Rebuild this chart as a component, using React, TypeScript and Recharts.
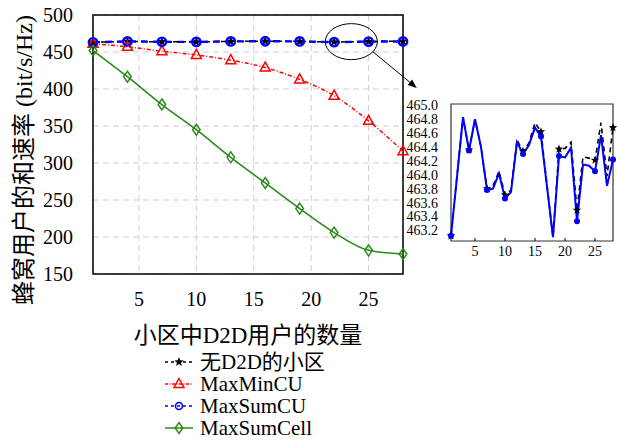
import React from "react";
import {
  CartesianGrid,
  Legend,
  Line,
  LineChart,
  ReferenceArea,
  ReferenceDot,
  ReferenceLine,
  XAxis,
  YAxis,
} from "recharts";

// x positions (number of D2D users in the cell)
const allX = [
  1, 2, 3, 4, 5, 6, 7, 8, 9, 10, 11, 12, 13, 14, 15, 16, 17, 18, 19, 20, 21,
  22, 23, 24, 25, 26, 27, 28,
];
const markerX = [1, 4, 7, 10, 13, 16, 19, 22, 25, 28];

// 无D2D的小区 (every x)
const noD2D = [
  463.12, 463.98, 464.83, 464.36, 464.8, 464.4, 463.8, 463.84, 464.05, 463.71,
  463.78, 464.5, 464.34, 464.46, 464.75, 464.62, 463.85, 463.1, 464.37, 464.38,
  464.47, 463.49, 464.26, 464.24, 464.21, 464.75, 463.98, 464.68,
];
// MaxSumCU (every x)
const maxSumCU = [
  463.12, 463.97, 464.83, 464.35, 464.8, 464.4, 463.78, 463.8, 464.02, 463.66,
  463.75, 464.47, 464.3, 464.43, 464.68, 464.55, 463.83, 463.1, 464.27, 464.25,
  464.39, 463.33, 464.15, 464.13, 464.05, 464.57, 463.84, 464.22,
];
// MaxMinCU and MaxSumCell (at markerX only)
const maxMinCU = [461, 457, 451, 446, 439, 429, 413, 391, 357, 316];
const maxSumCell = [452, 416.6, 379, 345, 307.7, 273, 238.4, 206, 182, 177];

const xTicks = [5, 10, 15, 20, 25];
const yTicks = [150, 200, 250, 300, 350, 400, 450, 500];
const insetXTicks = [5, 10, 15, 20, 25];
const insetYTicks = [
  463.2, 463.4, 463.6, 463.8, 464.0, 464.2, 464.4, 464.6, 464.8, 465.0,
];

const xLabel = "小区中D2D用户的数量";
const yLabel = "蜂窝用户的和速率 (bit/s/Hz)";
const seriesOrder = ["noD2D", "maxMinCU", "maxSumCU", "maxSumCell"];
const seriesNames: Record<string, string> = {
  noD2D: "无D2D的小区",
  maxMinCU: "MaxMinCU",
  maxSumCU: "MaxSumCU",
  maxSumCell: "MaxSumCell",
};

const BLUE = "#0000ff";
const RED = "#ff0000";
const GREEN = "#2b8a1b";
const FONT = "Liberation Serif";

const mainRows = markerX.map((x, i) => ({
  x,
  noD2D: noD2D[x - 1],
  maxSumCU: maxSumCU[x - 1],
  maxMinCU: maxMinCU[i],
  maxSumCell: maxSumCell[i],
}));

const insetRows = allX.map((x, i) => ({
  x,
  noD2D: noD2D[i],
  maxSumCU: maxSumCU[i],
}));

const markerSet = new Set(markerX);

function starPoints(cx: number, cy: number, R: number, r: number) {
  const pts: string[] = [];
  for (let i = 0; i < 10; i++) {
    const a = -Math.PI / 2 + (i * Math.PI) / 5;
    const rad = i % 2 ? r : R;
    pts.push(`${cx + rad * Math.cos(a)},${cy + rad * Math.sin(a)}`);
  }
  return pts.join(" ");
}

const Star = ({ cx, cy, size = 5 }: any) => (
  <polygon points={starPoints(cx, cy, size, size * 0.42)} fill="#000" />
);
const Tri = ({ cx, cy }: any) => (
  <polygon
    points={`${cx},${cy - 5.5} ${cx + 5},${cy + 3.5} ${cx - 5},${cy + 3.5}`}
    fill="none"
    stroke={RED}
    strokeWidth={1.5}
  />
);
const Ring = ({ cx, cy, r = 4.2, w = 2.4 }: any) => (
  <circle cx={cx} cy={cy} r={r} fill="none" stroke={BLUE} strokeWidth={w} />
);
const Diamond = ({ cx, cy }: any) => (
  <polygon
    points={`${cx},${cy - 5.5} ${cx + 3.8},${cy} ${cx},${cy + 5.5} ${cx - 3.8},${cy}`}
    fill="none"
    stroke={GREEN}
    strokeWidth={1.5}
  />
);

const legendStyles: Record<string, { stroke: string; dash?: string; width: number; marker: (cx: number, cy: number) => React.ReactNode }> = {
  noD2D: { stroke: "#000", dash: "3 3", width: 1.3, marker: (cx, cy) => <Star cx={cx} cy={cy} /> },
  maxMinCU: { stroke: RED, dash: "3 1.5 1 1.5", width: 1.3, marker: (cx, cy) => <Tri cx={cx} cy={cy} /> },
  maxSumCU: { stroke: BLUE, dash: "3 3", width: 1.5, marker: (cx, cy) => <Ring cx={cx} cy={cy} r={3.5} w={1.6} /> },
  maxSumCell: { stroke: GREEN, width: 1.5, marker: (cx, cy) => <Diamond cx={cx} cy={cy} /> },
};

const renderLegend = (props: any) => {
  const items = [...(props.payload || [])].sort(
    (a: any, b: any) => seriesOrder.indexOf(a.dataKey) - seriesOrder.indexOf(b.dataKey)
  );
  return (
    <div className="serif" style={{ fontSize: 21 }}>
      {items.map((it: any) => {
        const st = legendStyles[it.dataKey];
        if (!st) return null;
        return (
          <div key={it.dataKey} style={{ display: "flex", alignItems: "center", height: 22, lineHeight: "20px" }}>
            <svg width={37} height={20}>
              <line x1={2} y1={10} x2={30} y2={10} stroke={st.stroke} strokeWidth={st.width} strokeDasharray={st.dash} />
              {st.marker(16, 10)}
            </svg>
            <span>{it.value}</span>
          </div>
        );
      })}
    </div>
  );
};

const ellipseShape = (p: any) => (
  <ellipse cx={p.cx} cy={p.cy} rx={26} ry={18} fill="none" stroke="#000" strokeWidth={1} />
);

const arrowShape = (p: any) => {
  const { x1, y1, x2, y2 } = p;
  const a = Math.atan2(y2 - y1, x2 - x1);
  const L = 9;
  const W = 3.5;
  const bx = x2 - L * Math.cos(a);
  const by = y2 - L * Math.sin(a);
  const px = -Math.sin(a) * W;
  const py = Math.cos(a) * W;
  return (
    <g>
      <line x1={x1} y1={y1} x2={bx} y2={by} stroke="#000" strokeWidth={1} />
      <polygon points={`${x2},${y2} ${bx + px},${by + py} ${bx - px},${by - py}`} fill="#000" />
    </g>
  );
};

function mainDot(kind: string) {
  return (p: any) => {
    const { cx, cy, index } = p;
    if (cx == null || cy == null) return <g key={`${kind}-${index}`} />;
    let m: React.ReactNode = null;
    if (kind === "noD2D") m = <Star cx={cx} cy={cy} />;
    if (kind === "maxSumCU") m = <Ring cx={cx} cy={cy} />;
    if (kind === "maxMinCU") m = <Tri cx={cx} cy={cy} />;
    if (kind === "maxSumCell") m = <Diamond cx={cx} cy={cy} />;
    return <g key={`${kind}-${index}`}>{m}</g>;
  };
}

function insetDot(kind: string) {
  return (p: any) => {
    const { cx, cy, index, payload } = p;
    if (!markerSet.has(payload.x)) return <g key={`i-${kind}-${index}`} />;
    return (
      <g key={`i-${kind}-${index}`}>
        {kind === "noD2D" ? (
          <Star cx={cx} cy={cy} size={4.5} />
        ) : (
          <circle cx={cx} cy={cy} r={3} fill={BLUE} />
        )}
      </g>
    );
  };
}

const tick = { fontSize: 20, fill: "#000", fontFamily: FONT };
const insetTick = { fontSize: 14, fill: "#000", fontFamily: FONT };

const css = `
#root text, #root tspan, #root span, #root div, .serif {
  font-family: "Liberation Serif", "Noto Sans CJK SC" !important;
}
`;

export default function App() {
  return (
    <div
      style={{
        position: "absolute",
        left: 0,
        top: 0,
        width: 618,
        height: 441,
        background: "#fff",
        fontFamily: FONT,
      }}
    >
      <style>{css}</style>
      <LineChart
        width={618}
        height={441}
        data={mainRows}
        margin={{ top: 15, right: 215, bottom: 137, left: 43 }}
        style={{ fontFamily: FONT }}
      >
        <CartesianGrid stroke="#cfcfcf" strokeDasharray="6 4" strokeWidth={1} />
        <XAxis
          dataKey="x"
          type="number"
          domain={[1, 28]}
          ticks={xTicks}
          height={30}
          axisLine={false}
          tickLine={false}
          tick={tick}
          tickMargin={12}
          label={{
            content: (p: any) => {
              const vb = p.viewBox || {};
              return (
                <text
                  x={vb.x + vb.width / 2}
                  y={335}
                  textAnchor="middle"
                  dominantBaseline="central"
                  fontSize={23}
                  fontFamily={FONT}
                  fill="#000"
                >
                  {xLabel}
                </text>
              );
            },
          }}
        />
        <YAxis
          type="number"
          domain={[150, 500]}
          ticks={yTicks}
          width={50}
          axisLine={false}
          tickLine={false}
          tick={tick}
          tickMargin={14}
          label={{
            content: () => (
              <text
                x={24}
                y={160}
                transform="rotate(-90 24 160)"
                textAnchor="middle"
                dominantBaseline="central"
                fontSize={24}
                fontFamily={FONT}
                fill="#000"
              >
                {yLabel}
              </text>
            ),
          }}
        />
        <Line
          dataKey="noD2D"
          name={seriesNames.noD2D}
          stroke="#000"
          strokeWidth={1.5}
          strokeDasharray="5 3"
          dot={mainDot("noD2D")}
          isAnimationActive={false}
        />
        <Line
          type="monotone"
          dataKey="maxMinCU"
          name={seriesNames.maxMinCU}
          stroke={RED}
          strokeWidth={1.5}
          strokeDasharray="4 2 1 2"
          dot={mainDot("maxMinCU")}
          isAnimationActive={false}
        />
        <Line
          dataKey="maxSumCU"
          name={seriesNames.maxSumCU}
          stroke={BLUE}
          strokeWidth={2.4}
          strokeDasharray="7 5"
          dot={mainDot("maxSumCU")}
          isAnimationActive={false}
        />
        <Line
          type="monotone"
          dataKey="maxSumCell"
          name={seriesNames.maxSumCell}
          stroke={GREEN}
          strokeWidth={1.6}
          dot={mainDot("maxSumCell")}
          isAnimationActive={false}
        />
        <ReferenceArea
          x1={1}
          x2={28}
          y1={150}
          y2={500}
          fill="none"
          fillOpacity={0}
          stroke="#000"
          strokeWidth={1.5}
          ifOverflow="visible"
        />
        <ReferenceDot x={23.5} y={464} r={1} shape={ellipseShape} ifOverflow="visible" />
        <ReferenceLine
          segment={[
            { x: 25.4, y: 450 },
            { x: 29.2, y: 401.5 },
          ]}
          ifOverflow="visible"
          shape={arrowShape}
        />
        <Legend
          layout="vertical"
          align="center"
          verticalAlign="middle"
          content={renderLegend}
          wrapperStyle={{ left: 163, top: 351, width: 220, height: 90 }}
        />
      </LineChart>

      <div style={{ position: "absolute", left: 400, top: 90 }}>
        <LineChart
          width={218}
          height={170}
          data={insetRows}
          margin={{ top: 14, right: 5, bottom: 0, left: 0 }}
          style={{ fontFamily: FONT }}
        >
          <XAxis
            dataKey="x"
            type="number"
            domain={[1, 28]}
            ticks={insetXTicks}
            height={19}
            axisLine={false}
            tickLine={{ stroke: "#000" }}
            tickSize={-3}
            tickMargin={8}
            tick={insetTick}
          />
          <YAxis
            type="number"
            domain={[463.046, 465.02]}
            allowDataOverflow
            ticks={insetYTicks}
            interval={0}
            tickFormatter={(v: number) => v.toFixed(1)}
            width={51}
            axisLine={false}
            tickLine={false}
            tickMargin={7}
            tick={insetTick}
          />
          <Line
            dataKey="noD2D"
            stroke="#000"
            strokeWidth={1.6}
            strokeDasharray="5 4"
            dot={insetDot("noD2D")}
            isAnimationActive={false}
          />
          <Line
            dataKey="maxSumCU"
            stroke={BLUE}
            strokeWidth={2}
            dot={insetDot("maxSumCU")}
            isAnimationActive={false}
          />
          <ReferenceArea
            x1={1}
            x2={28}
            y1={463.046}
            y2={465.02}
            fill="none"
            fillOpacity={0}
            stroke="#333"
            strokeWidth={1.2}
            ifOverflow="visible"
          />
        </LineChart>
      </div>
    </div>
  );
}
